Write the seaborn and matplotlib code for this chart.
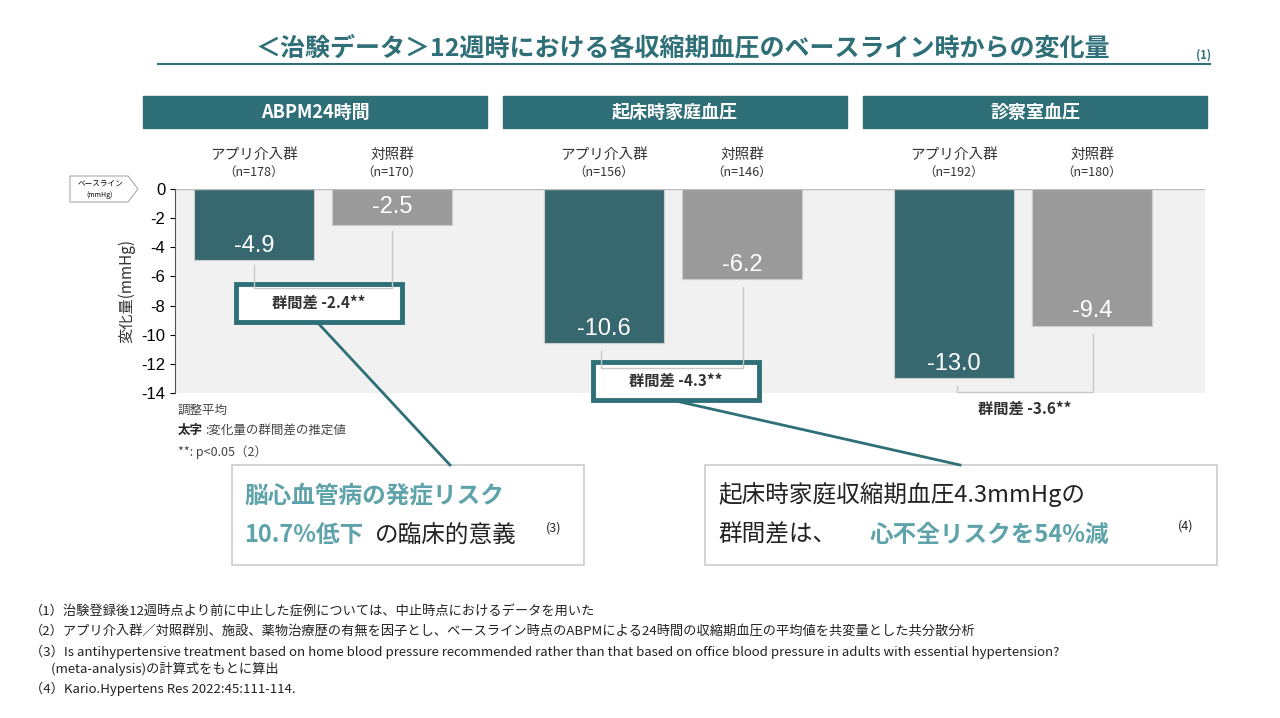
import matplotlib
matplotlib.use("Agg")
import matplotlib.pyplot as plt
import seaborn as sns
import pandas as pd
from matplotlib.patches import Rectangle, Polygon

plt.rcParams["font.family"] = ["Noto Sans CJK JP"]

groups = ["ABPM24時間", "起床時家庭血圧", "診察室血圧"]
arms = ["アプリ介入群", "対照群"]
n_app = [178, 156, 192]
n_ctl = [170, 146, 180]
app_vals = [-4.9, -10.6, -13.0]
ctl_vals = [-2.5, -6.2, -9.4]
diffs = ["-2.4", "-4.3", "-3.6"]
yticks = [0, -2, -4, -6, -8, -10, -12, -14]

TEAL = "#2f6f78"
GRAY = "#9a9a9a"

W, H = 1280, 718
fig = plt.figure(figsize=(12.8, 7.18), dpi=100)

# pixel-space helper: group centers and offsets
gc = [323 + 350 * i for i in range(3)]
off = 69
rows = []
for i in range(3):
    rows.append({"x": gc[i] - off, "v": app_vals[i], "arm": arms[0]})
    rows.append({"x": gc[i] + off, "v": ctl_vals[i], "arm": arms[1]})
df = pd.DataFrame(rows)

ax_l, ax_r, ax_t, ax_b = 175, 1205, 189, 393
ax = fig.add_axes([ax_l / W, 1 - ax_b / H, (ax_r - ax_l) / W, (ax_b - ax_t) / H])
ax.set_facecolor("#f1f1f1")
sns.barplot(data=df, x="x", y="v", hue="arm", native_scale=True, palette=[TEAL, GRAY],
            width=0.87, dodge=False, legend=False, ax=ax, edgecolor="#cccccc", linewidth=0.8)
ax.set_xlim(ax_l, ax_r)
ax.set_ylim(-14, 0)
ax.set_yticks(yticks)
ax.set_yticklabels([str(t) for t in yticks], fontsize=12, fontfamily="Liberation Sans")
ax.set_xticks([])
ax.set_xlabel("")
ax.set_ylabel("変化量(mmHg)", fontsize=11, color="#333")
for s in ["top", "right", "bottom"]:
    ax.spines[s].set_visible(False)
ax.spines["left"].set_color("#555")
ax.axhline(0, color="#bbbbbb", lw=1)
for i in range(3):
    for x, v in [(gc[i] - off, app_vals[i]), (gc[i] + off, ctl_vals[i])]:
        yl = v / 2 if v > -3 else v + 1.0
        ax.text(x, yl, f"{v:.1f}", color="white", fontsize=17, ha="center", va="center",
                fontfamily="Liberation Sans")

# overlay pixel axes
ov = fig.add_axes([0, 0, 1, 1], facecolor="none")
ov.set_xlim(0, W); ov.set_ylim(H, 0); ov.axis("off")

ov.text(683, 48, "＜治験データ＞12週時における各収縮期血圧のベースライン時からの変化量", color=TEAL,
        fontsize=18, fontweight="bold", ha="center", va="center")
ov.text(1196, 55, "(1)", color=TEAL, fontsize=8, fontweight="bold", ha="left", va="center")
ov.plot([158, 1210], [64, 64], color=TEAL, lw=1.5)

for i, g in enumerate(groups):
    x0 = 143 + 360 * i
    ov.add_patch(Rectangle((x0, 96), 344, 32, color=TEAL))
    ov.text(x0 + 172, 112, g, color="white", fontsize=13, fontweight="bold", ha="center", va="center")
    ov.text(gc[i] - off, 155, arms[0], fontsize=10.5, ha="center", va="center", color="#333")
    ov.text(gc[i] - off, 172, f"（n={n_app[i]}）", fontsize=9, ha="center", va="center", color="#333")
    ov.text(gc[i] + off, 155, arms[1], fontsize=10.5, ha="center", va="center", color="#333")
    ov.text(gc[i] + off, 172, f"（n={n_ctl[i]}）", fontsize=9, ha="center", va="center", color="#333")

# baseline tag
ov.add_patch(Polygon([[70, 176], [128, 176], [138, 189], [128, 202], [70, 202]], closed=True,
                     facecolor="white", edgecolor="#aaa", lw=0.8))
ov.text(100, 185, "ベースライン", fontsize=5.5, ha="center", va="center")
ov.text(100, 195, "(mmHg)", fontsize=5, ha="center", va="center")

# brackets
def py(v):
    return ax_t + (ax_b - ax_t) * (-v / 14)
bcol = "#c8c8c8"
ov.plot([254, 254, 392, 392], [py(-4.9) + 5, 288, 288, py(-2.5) + 6], color=bcol, lw=1)
ov.plot([601, 601, 743, 743], [py(-10.6) + 8, 368, 368, py(-6.2) + 8], color=bcol, lw=1)
ov.plot([957, 957, 1093, 1093], [py(-13.0) + 8, 392, 392, py(-9.4) + 8], color=bcol, lw=1)

# diff boxes
ov.add_patch(Rectangle((236, 284), 166, 38, facecolor="white", edgecolor=TEAL, lw=3.5))
ov.text(319, 303, f"群間差 {diffs[0]}**", fontsize=11, fontweight="bold", ha="center", va="center", color="#333")
ov.add_patch(Rectangle((593, 362), 166, 38, facecolor="white", edgecolor=TEAL, lw=3.5))
ov.text(676, 381, f"群間差 {diffs[1]}**", fontsize=11, fontweight="bold", ha="center", va="center", color="#333")
ov.text(1025, 409, f"群間差 {diffs[2]}**", fontsize=11, fontweight="bold", ha="center", va="center", color="#333")

# connectors
ov.plot([318, 450], [323, 465], color=TEAL, lw=2)
ov.plot([676, 960], [401, 465], color=TEAL, lw=2)

# notes
ov.text(178, 410, "調整平均", fontsize=9, va="center", color="#444")
ov.text(178, 430, "太字", fontsize=9, fontweight="bold", va="center", color="#222")
ov.text(205, 430, ":変化量の群間差の推定値", fontsize=9, va="center", color="#444")
ov.text(178, 452, "**: p<0.05（2）", fontsize=9, va="center", color="#444")

# callouts
ov.add_patch(Rectangle((232, 465), 352, 100, facecolor="white", edgecolor="#cccccc", lw=1.2))
ov.text(244, 495, "脳心血管病の発症リスク", fontsize=17, fontweight="bold", color="#5fa3aa", va="center")
ov.text(244, 535, "10.7%低下", fontsize=17, fontweight="bold", color="#5fa3aa", va="center")
ov.text(375, 535, "の臨床的意義", fontsize=17, color="#222", va="center")
ov.text(546, 528, "(3)", fontsize=9, color="#222", va="center")
ov.add_patch(Rectangle((705, 465), 512, 100, facecolor="white", edgecolor="#cccccc", lw=1.2))
ov.text(718, 495, "起床時家庭収縮期血圧4.3mmHgの", fontsize=17, color="#222", va="center")
ov.text(718, 535, "群間差は、", fontsize=17, color="#222", va="center")
ov.text(870, 535, "心不全リスクを54%減", fontsize=17, fontweight="bold", color="#5fa3aa", va="center")
ov.text(1178, 526, "(4)", fontsize=9, color="#222", va="center")

foot = [(612, "（1）治験登録後12週時点より前に中止した症例については、中止時点におけるデータを用いた"),
        (632, "（2）アプリ介入群／対照群別、施設、薬物治療歴の有無を因子とし、ベースライン時点のABPMによる24時間の収縮期血圧の平均値を共変量とした共分散分析"),
        (652, "（3）Is antihypertensive treatment based on home blood pressure recommended rather than that based on office blood pressure in adults with essential hypertension?"),
        (669, "       (meta-analysis)の計算式をもとに算出"),
        (689, "（4）Kario.Hypertens Res 2022:45:111-114.")]
for y, t in foot:
    ov.text(30, y, t, fontsize=9.5, va="center", color="#222")

fig.savefig("out.png", dpi=100)
